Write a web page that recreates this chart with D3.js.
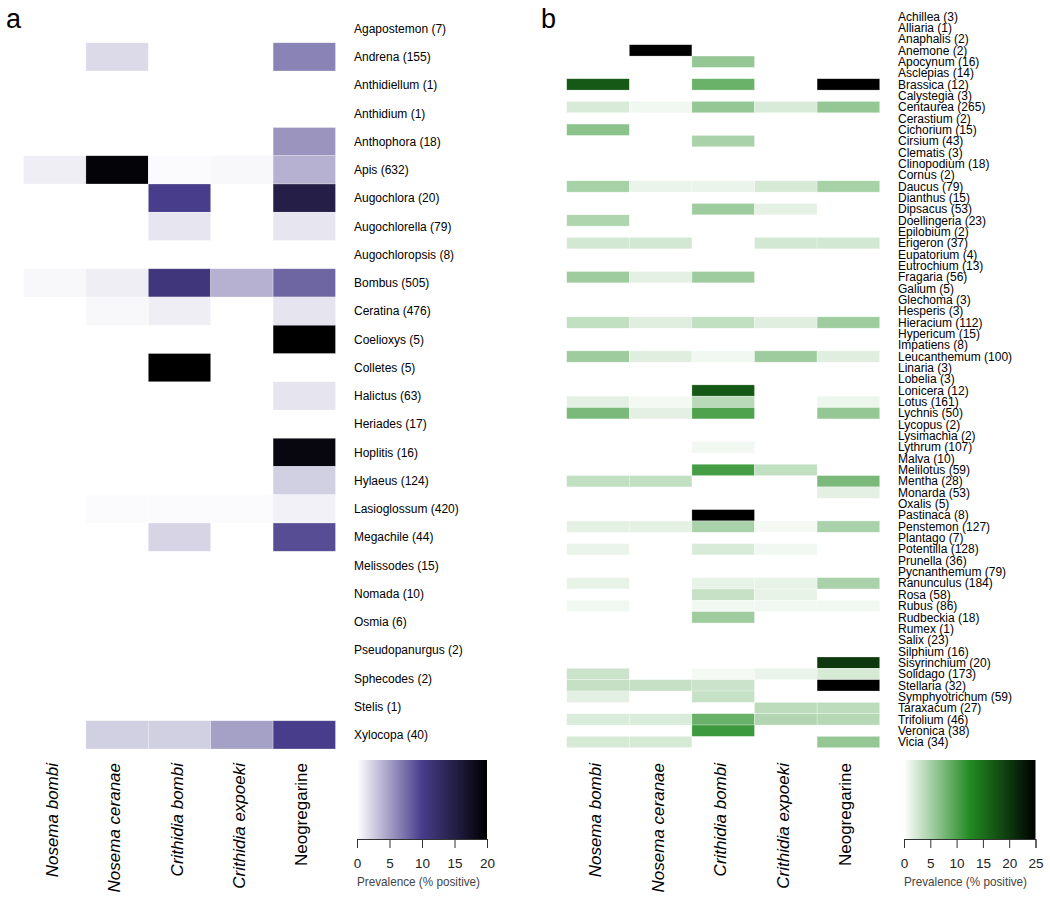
<!DOCTYPE html>
<html lang="en">
  <head>
    <meta charset="UTF-8" />
    <title>Parasite prevalence by bee genus and plant genus</title>
    <script src="https://d3js.org/d3.v7.min.js"></script>
    <style>
      body {
        margin: 0;
        background: #fff;
        font-family: "Liberation Sans", Arial, sans-serif;
      }
      .row-label {
        font-size: 12px;
        fill: #000;
      }
      .col-label {
        font-size: 17px;
        fill: #000;
      }
      .panel-letter {
        font-size: 27px;
        fill: #000;
      }
      .legend-axis text {
        font-size: 13.5px;
        fill: #222;
      }
      .legend-axis path,
      .legend-axis line {
        stroke: #333;
      }
      .legend-title {
        font-size: 13.5px;
        fill: #444;
      }
    </style>
  </head>
  <body>
    <svg id="chart" width="1050" height="898"></svg>

    <script>
      const parasites = [
        "Nosema bombi",
        "Nosema ceranae",
        "Crithidia bombi",
        "Crithidia expoeki",
        "Neogregarine",
      ];

      // panel a: bee genera, sample sizes, prevalence (%) per parasite
      const beeGenera = [
        "Agapostemon", "Andrena", "Anthidiellum", "Anthidium", "Anthophora",
        "Apis", "Augochlora", "Augochlorella", "Augochloropsis", "Bombus",
        "Ceratina", "Coelioxys", "Colletes", "Halictus", "Heriades",
        "Hoplitis", "Hylaeus", "Lasioglossum", "Megachile", "Melissodes",
        "Nomada", "Osmia", "Pseudopanurgus", "Sphecodes", "Stelis", "Xylocopa",
      ];
      const beeN = [
        7, 155, 1, 1, 18, 632, 20, 79, 8, 505, 476, 5, 5, 63, 17, 16, 124, 420,
        44, 15, 10, 6, 2, 2, 1, 40,
      ];
      const beePrev = [
        [0, 0, 0, 0, 0],
        [0, 1.9, 0, 0, 6.4],
        [0, 0, 0, 0, 0],
        [0, 0, 0, 0, 0],
        [0, 0, 0, 0, 5.5],
        [0.9, 19.5, 0.2, 0.4, 4],
        [0, 0, 10, 0, 14.9],
        [0, 0, 1.3, 0, 1.3],
        [0, 0, 0, 0, 0],
        [0.4, 0.9, 11.1, 4, 7.9],
        [0, 0.4, 0.9, 0, 1.4],
        [0, 0, 0, 0, 20],
        [0, 0, 20, 0, 0],
        [0, 0, 0, 0, 1.4],
        [0, 0, 0, 0, 0],
        [0, 0, 0, 0, 18.9],
        [0, 0, 0, 0, 2.5],
        [0, 0.2, 0.2, 0.2, 0.7],
        [0, 0, 2.2, 0, 9.2],
        [0, 0, 0, 0, 0],
        [0, 0, 0, 0, 0],
        [0, 0, 0, 0, 0],
        [0, 0, 0, 0, 0],
        [0, 0, 0, 0, 0],
        [0, 0, 0, 0, 0],
        [0, 2.5, 2.5, 4.9, 10],
      ];
      const beeTicks = [0, 5, 10, 15, 20];

      // panel b: plant genera, sample sizes, prevalence (%) per parasite
      const plantGenera = [
        "Achillea", "Alliaria", "Anaphalis", "Anemone", "Apocynum", "Asclepias",
        "Brassica", "Calystegia", "Centaurea", "Cerastium", "Cichorium",
        "Cirsium", "Clematis", "Clinopodium", "Cornus", "Daucus", "Dianthus",
        "Dipsacus", "Doellingeria", "Epilobium", "Erigeron", "Eupatorium",
        "Eutrochium", "Fragaria", "Galium", "Glechoma", "Hesperis", "Hieracium",
        "Hypericum", "Impatiens", "Leucanthemum", "Linaria", "Lobelia",
        "Lonicera", "Lotus", "Lychnis", "Lycopus", "Lysimachia", "Lythrum",
        "Malva", "Melilotus", "Mentha", "Monarda", "Oxalis", "Pastinaca",
        "Penstemon", "Plantago", "Potentilla", "Prunella", "Pycnanthemum",
        "Ranunculus", "Rosa", "Rubus", "Rudbeckia", "Rumex", "Salix",
        "Silphium", "Sisyrinchium", "Solidago", "Stellaria", "Symphyotrichum",
        "Taraxacum", "Trifolium", "Veronica", "Vicia",
      ];
      const plantN = [
        3, 1, 2, 2, 16, 14, 12, 3, 265, 2, 15, 43, 3, 18, 2, 79, 15, 53, 23, 2,
        37, 4, 13, 56, 5, 3, 3, 112, 15, 8, 100, 3, 3, 12, 161, 50, 2, 2, 107,
        10, 59, 28, 53, 5, 8, 127, 7, 128, 36, 79, 184, 58, 86, 18, 1, 23, 16,
        20, 173, 32, 59, 27, 46, 38, 34,
      ];
      const plantPrev = [
        [0, 0, 0, 0, 0], // Achillea
        [0, 0, 0, 0, 0], // Alliaria
        [0, 0, 0, 0, 0], // Anaphalis
        [0, 25, 0, 0, 0], // Anemone
        [0, 0, 6, 0, 0], // Apocynum
        [0, 0, 0, 0, 0], // Asclepias
        [17, 0, 8.4, 0, 25], // Brassica
        [0, 0, 0, 0, 0], // Calystegia
        [2.2, 0.8, 6, 2.2, 6], // Centaurea
        [0, 0, 0, 0, 0], // Cerastium
        [6.5, 0, 0, 0, 0], // Cichorium
        [0, 0, 4.8, 0, 0], // Cirsium
        [0, 0, 0, 0, 0], // Clematis
        [0, 0, 0, 0, 0], // Clinopodium
        [0, 0, 0, 0, 0], // Cornus
        [5, 1.2, 1.2, 2.3, 5], // Daucus
        [0, 0, 0, 0, 0], // Dianthus
        [0, 0, 5.5, 1.5, 0], // Dipsacus
        [4.5, 0, 0, 0, 0], // Doellingeria
        [0, 0, 0, 0, 0], // Epilobium
        [2.5, 2.5, 0, 2.5, 2.5], // Erigeron
        [0, 0, 0, 0, 0], // Eupatorium
        [0, 0, 0, 0, 0], // Eutrochium
        [5.5, 1.6, 5.5, 0, 0], // Fragaria
        [0, 0, 0, 0, 0], // Galium
        [0, 0, 0, 0, 0], // Glechoma
        [0, 0, 0, 0, 0], // Hesperis
        [3.5, 1.8, 3.5, 1.8, 5.5], // Hieracium
        [0, 0, 0, 0, 0], // Hypericum
        [0, 0, 0, 0, 0], // Impatiens
        [5.5, 1.8, 0.8, 5.5, 1.8], // Leucanthemum
        [0, 0, 0, 0, 0], // Linaria
        [0, 0, 0, 0, 0], // Lobelia
        [0, 0, 17, 0, 0], // Lonicera
        [1.6, 0.6, 4, 0, 1], // Lotus
        [7.5, 1.6, 10, 0, 6], // Lychnis
        [0, 0, 0, 0, 0], // Lycopus
        [0, 0, 0, 0, 0], // Lysimachia
        [0, 0, 0.8, 0, 0], // Lythrum
        [0, 0, 0, 0, 0], // Malva
        [0, 0, 10.5, 3.5, 0], // Melilotus
        [3.5, 3.5, 0, 0, 7.5], // Mentha
        [0, 0, 0, 0, 1.6], // Monarda
        [0, 0, 0, 0, 0], // Oxalis
        [0, 0, 25, 0, 0], // Pastinaca
        [1.5, 1.5, 4.8, 0.6, 4.8], // Penstemon
        [0, 0, 0, 0, 0], // Plantago
        [1.2, 0, 2.2, 0.8, 0], // Potentilla
        [0, 0, 0, 0, 0], // Prunella
        [0, 0, 0, 0, 0], // Pycnanthemum
        [1.3, 0, 1.3, 1.3, 4.8], // Ranunculus
        [0, 0, 3.2, 1.3, 0], // Rosa
        [0.8, 0, 0.8, 0.8, 0.8], // Rubus
        [0, 0, 5.5, 0, 0], // Rudbeckia
        [0, 0, 0, 0, 0], // Rumex
        [0, 0, 0, 0, 0], // Salix
        [0, 0, 0, 0, 0], // Silphium
        [0, 0, 0, 0, 20], // Sisyrinchium
        [3, 0, 0.6, 1.2, 2.3], // Solidago
        [3.3, 3.3, 3, 0, 25], // Stellaria
        [1.6, 0, 3.2, 0, 0], // Symphyotrichum
        [0, 0, 0, 3.8, 3.8], // Taraxacum
        [2.1, 2.1, 8.5, 4.4, 4.2], // Trifolium
        [0, 0, 11, 0, 0], // Veronica
        [2.3, 2.3, 0, 0, 6], // Vicia
      ];
      const plantTicks = [0, 5, 10, 15, 20, 25];

      const svg = d3.select("#chart");

      function drawPanel(opts) {
        const { letter, letterX, rows, counts, values, x0, x1, y0, y1, labelX, color, ticks, legendX } = opts;
        const g = svg.append("g");

        const x = d3.scaleBand().domain(parasites).range([x0, x1]);
        const y = d3.scaleBand().domain(rows).range([y0, y1]);

        g.append("text")
          .attr("class", "panel-letter")
          .attr("x", letterX)
          .attr("y", 28)
          .text(letter);

        // cells
        rows.forEach((r, i) => {
          parasites.forEach((p, j) => {
            const v = values[i][j];
            if (!v) return;
            g.append("rect")
              .attr("x", x(p))
              .attr("y", y(r))
              .attr("width", x.bandwidth())
              .attr("height", y.bandwidth())
              .attr("fill", color(v))
              .attr("stroke", "#fff")
              .attr("stroke-width", 0.6)
              .attr("stroke-opacity", 0.45);
          });
        });

        // row labels
        g.selectAll(".row-label")
          .data(rows)
          .join("text")
          .attr("class", "row-label")
          .attr("x", labelX)
          .attr("y", (d) => y(d) + y.bandwidth() / 2)
          .attr("dy", "0.35em")
          .text((d, i) => `${d} (${counts[i]})`);

        // column labels
        g.selectAll(".col-label")
          .data(parasites)
          .join("text")
          .attr("class", "col-label")
          .attr("text-anchor", "end")
          .attr("font-style", (d) => (d === "Neogregarine" ? "normal" : "italic"))
          .attr("transform", (d) => `translate(${x(d) + x.bandwidth() / 2 + 3},763) rotate(-90)`)
          .text((d) => d);

        // colour legend
        const lx = d3.scaleLinear().domain(d3.extent(ticks)).range(legendX);
        const gradId = "grad-" + letter;
        const grad = svg
          .append("defs")
          .append("linearGradient")
          .attr("id", gradId)
          .attr("x1", "0%")
          .attr("x2", "100%");
        d3.range(0, 1.0001, 0.05).forEach((t) => {
          grad
            .append("stop")
            .attr("offset", t * 100 + "%")
            .attr("stop-color", color(lx.invert(legendX[0] + t * (legendX[1] - legendX[0]))));
        });
        g.append("rect")
          .attr("x", legendX[0])
          .attr("y", 760)
          .attr("width", legendX[1] - legendX[0])
          .attr("height", 79)
          .attr("fill", `url(#${gradId})`);

        g.append("g")
          .attr("class", "legend-axis")
          .attr("transform", "translate(0,839)")
          .call(d3.axisBottom(lx).tickValues(ticks).tickSize(9).tickPadding(10))
          .call((a) => a.attr("font-size", null).attr("font-family", null));

        g.append("text")
          .attr("class", "legend-title")
          .attr("x", legendX[0])
          .attr("y", 886)
          .attr("textLength", 123)
          .attr("lengthAdjust", "spacingAndGlyphs")
          .text("Prevalence (% positive)");
      }

      drawPanel({
        letter: "a",
        letterX: 6,
        rows: beeGenera,
        counts: beeN,
        values: beePrev,
        x0: 23.5,
        x1: 335.5,
        y0: 14.5,
        y1: 749,
        labelX: 354,
        color: d3.scaleLinear().domain([0, 10, 20]).range(["#ffffff", "#483d8b", "#000000"]),
        ticks: beeTicks,
        legendX: [357, 487],
      });

      drawPanel({
        letter: "b",
        letterX: 541,
        rows: plantGenera,
        counts: plantN,
        values: plantPrev,
        x0: 566.7,
        x1: 879.7,
        y0: 10.7,
        y1: 747.7,
        labelX: 898,
        color: d3.scaleLinear().domain([0, 12.5, 25]).range(["#ffffff", "#228b22", "#000000"]),
        ticks: plantTicks,
        legendX: [904, 1035.5],
      });
    </script>
  </body>
</html>
